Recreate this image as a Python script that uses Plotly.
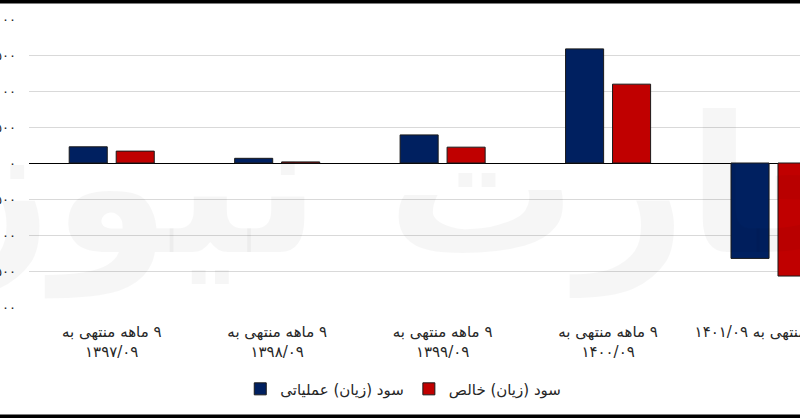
import plotly.graph_objects as go

RLM = "\u200f"

categories = [
    "۹ ماهه منتهی به<br>۱۳۹۷/۰۹",
    "۹ ماهه منتهی به<br>۱۳۹۸/۰۹",
    "۹ ماهه منتهی به<br>۱۳۹۹/۰۹",
    "۹ ماهه منتهی به<br>۱۴۰۰/۰۹",
    "۹ ماهه منتهی به ۱۴۰۱/۰۹",
]
operating_profit = [225, 65, 390, 1585, -1325]
net_profit = [165, 15, 220, 1095, -1570]

y_tickvals = [-2000, -1500, -1000, -500, 0, 500, 1000, 1500, 2000]
y_ticktext = ["-۲,۰۰۰", "-۱,۵۰۰", "-۱,۰۰۰", "-۵۰۰", "۰", "۵۰۰", "۱,۰۰۰", "۱,۵۰۰", "۲,۰۰۰"]

series_names = ["سود (زیان) عملیاتی", "سود (زیان) خالص"]
colors = ["#002060", "#C00000"]

FONT = "DejaVu Sans, Noto Sans, sans-serif"

# right-to-left display of each label line
x_labels = ["<br>".join(RLM + part for part in c.split("<br>")) for c in categories]

fig = go.Figure()
for name, vals, col in zip(series_names, [operating_profit, net_profit], colors):
    fig.add_trace(go.Bar(
        x=x_labels, y=vals, name=RLM + name,
        marker=dict(color=col, line=dict(color="#1a1a1a", width=1)),
    ))

fig.update_layout(
    width=800, height=418,
    paper_bgcolor="white", plot_bgcolor="white",
    margin=dict(l=29, r=0, t=19, b=111, autoexpand=False),
    barmode="group", bargap=0.432, bargroupgap=0.19,
    font=dict(family=FONT, size=15, color="#262626"),
    showlegend=True,
    legend=dict(orientation="h", x=0.274, xanchor="left", y=-0.285, yanchor="middle",
                font=dict(size=15, color="#262626"), traceorder="normal"),
    xaxis=dict(type="category", range=[-0.5, 4.16], showgrid=False, showline=False,
               ticks="", ticklabelstandoff=14, automargin=False,
               tickfont=dict(size=15, color="#262626")),
    yaxis=dict(range=[-2000, 2000], tickvals=y_tickvals, ticktext=y_ticktext,
               showgrid=True, gridcolor="#d9d9d9", gridwidth=1,
               zeroline=True, zerolinecolor="#000000", zerolinewidth=1.3,
               showline=False, ticks="", ticklabelstandoff=12, automargin=False,
               tickfont=dict(size=13, color="#262626")),
    shapes=[
        dict(type="rect", xref="paper", yref="paper", x0=-0.1, x1=1.1,
             y0=1 + 15.5 / 288, y1=1 + 40 / 288, fillcolor="black", line=dict(width=0), layer="above"),
        dict(type="rect", xref="paper", yref="paper", x0=-0.1, x1=1.1,
             y0=-107.5 / 288, y1=-140 / 288, fillcolor="black", line=dict(width=0), layer="above"),
    ],
    annotations=[
        dict(text="<b>چارت نیوز</b>", xref="paper", yref="paper", x=0.5, y=0.02,
             showarrow=False, font=dict(size=190, color="rgba(0,0,0,0.035)", family=FONT)),
    ],
)

fig.write_html("out.html", config={"displayModeBar": False},
               post_script="document.body.style.margin='0';document.body.style.overflow='hidden';"
                           "document.body.style.background='black';"
                           "document.documentElement.style.background='black';")
